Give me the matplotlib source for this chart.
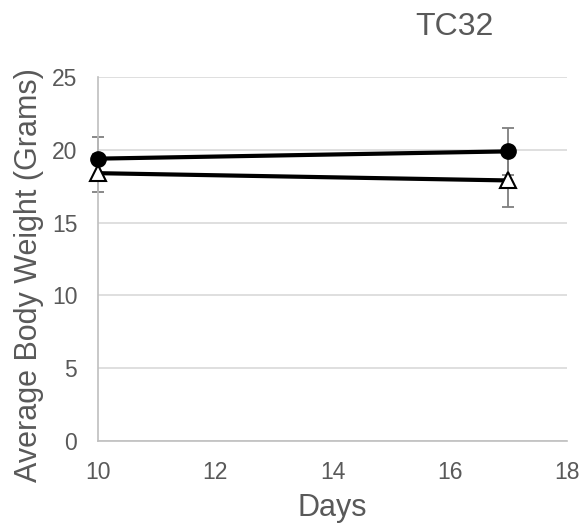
import matplotlib
matplotlib.use('Agg')
import matplotlib.pyplot as plt

# data
days = [10, 17]
circle_weight = [19.4, 19.9]
circle_err = [1.5, 1.6]
triangle_weight = [18.4, 17.9]
triangle_err = [1.3, 1.8]

plt.rcParams['font.family'] = ['Liberation Sans', 'DejaVu Sans']
text_color = '#595959'

fig = plt.figure(figsize=(5.84, 5.29), dpi=100)
ax = fig.add_axes([0.168, 0.167, 0.803, 0.687])

ax.errorbar(days, triangle_weight, yerr=triangle_err, fmt='none', ecolor='#7f7f7f',
            elinewidth=1.3, capsize=4.5, capthick=1.3, zorder=2, clip_on=False)
ax.errorbar(days, circle_weight, yerr=circle_err, fmt='none', ecolor='#7f7f7f',
            elinewidth=1.3, capsize=4.5, capthick=1.3, zorder=2, clip_on=False)
ax.plot(days, circle_weight, color='black', linewidth=3, marker='o', markersize=11,
        markerfacecolor='black', markeredgecolor='black', zorder=4, clip_on=False)
ax.plot(days, triangle_weight, color='black', linewidth=3, marker='^', markersize=11,
        markerfacecolor='white', markeredgecolor='black', markeredgewidth=1.5,
        zorder=3, clip_on=False)

ax.set_xlim(10, 18)
ax.set_ylim(0, 25)
ax.set_xticks([10, 12, 14, 16, 18])
ax.set_yticks([0, 5, 10, 15, 20, 25])
ax.yaxis.grid(True, color='#d9d9d9', linewidth=1.2)
ax.set_axisbelow(True)
for s in ['top', 'right']:
    ax.spines[s].set_visible(False)
for s in ['left', 'bottom']:
    ax.spines[s].set_color('#bfbfbf')
    ax.spines[s].set_linewidth(1.2)
ax.tick_params(axis='both', length=0, labelsize=16.5, labelcolor=text_color)
ax.tick_params(axis='x', pad=15)
ax.tick_params(axis='y', pad=15)

ax.set_xlabel('Days', fontsize=22, color=text_color, labelpad=6)
ax.set_ylabel('Average Body Weight (Grams)', fontsize=22, color=text_color)
ax.yaxis.set_label_coords(-0.116, 0.456)
fig.text(0.779, 0.934, 'TC32', fontsize=23, color=text_color, ha='center', va='baseline')

fig.savefig('out.png', dpi=100)
